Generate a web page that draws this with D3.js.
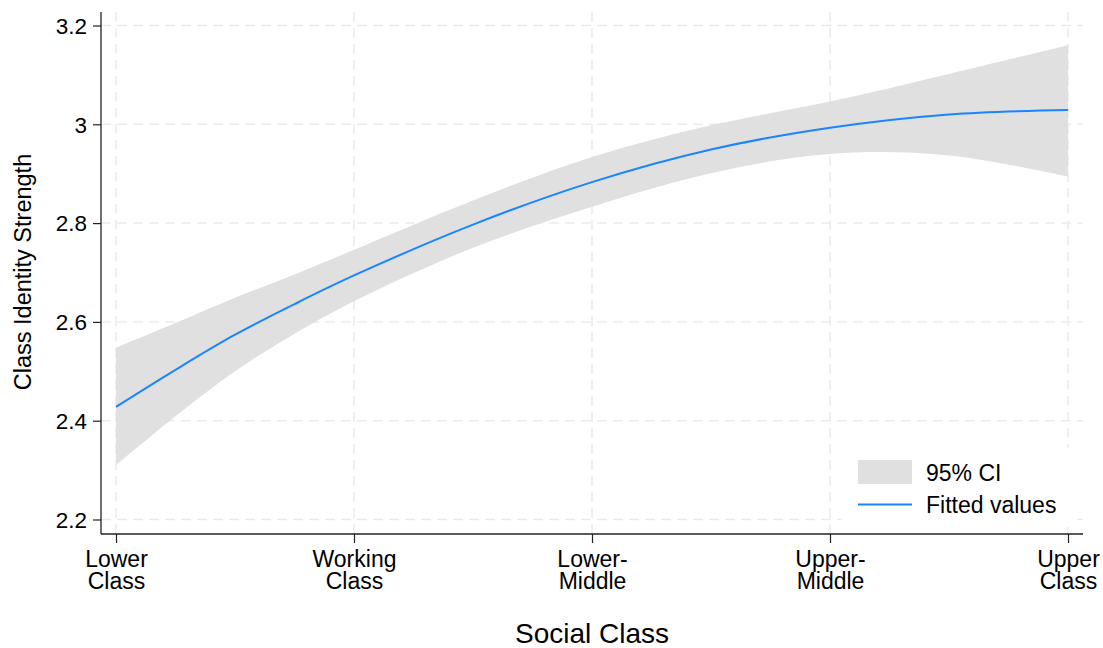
<!DOCTYPE html>
<html>
<head>
<meta charset="utf-8">
<script src="https://cdn.jsdelivr.net/npm/d3@7"></script>
<style>
  body { margin: 0; background: #fff; }
  svg text { font-family: "Liberation Sans", Arial, Helvetica, sans-serif; fill: #000; }
</style>
</head>
<body>
<svg id="chart"></svg>
<script>
// values
let classPos = [1, 1.25, 1.5, 1.75, 2, 2.5, 3, 3.5, 4, 4.5, 5];
let fitted = [2.428, 2.503, 2.574, 2.636, 2.694, 2.797, 2.883, 2.949, 2.993, 3.020, 3.029];
let ciUpper = [2.548, 2.598, 2.649, 2.696, 2.746, 2.846, 2.934, 2.998, 3.046, 3.102, 3.160];
let ciLower = [2.310, 2.409, 2.500, 2.576, 2.642, 2.750, 2.833, 2.901, 2.940, 2.937, 2.894];

let xTicks = [1, 2, 3, 4, 5];
let xTickLabels = [["Lower", "Class"], ["Working", "Class"], ["Lower-", "Middle"], ["Upper-", "Middle"], ["Upper", "Class"]];
let yTicks = [2.2, 2.4, 2.6, 2.8, 3, 3.2];

let w = 1103;
let h = 648;
let frame = { left: 101, right: 1083, top: 12, bottom: 534 };

let svg = d3.select("#chart").attr("width", w).attr("height", h);

let x = d3.scaleLinear().domain([1, 5]).range([116, 1068]);
let y = d3.scaleLinear().domain([2.2, 3.2]).range([519.5, 25.5]);

let rows = classPos.map((d, i) => ({ x: d, fit: fitted[i], hi: ciUpper[i], lo: ciLower[i] }));

// grid
svg.append("g").selectAll("line")
  .data(yTicks)
  .enter()
  .append("line")
  .attr("x1", frame.left).attr("x2", frame.right)
  .attr("y1", d => y(d)).attr("y2", d => y(d))
  .attr("stroke", "#ebebeb").attr("stroke-width", 1.5)
  .attr("stroke-dasharray", "10,6");

svg.append("g").selectAll("line")
  .data(xTicks)
  .enter()
  .append("line")
  .attr("x1", d => x(d)).attr("x2", d => x(d))
  .attr("y1", frame.top).attr("y2", frame.bottom)
  .attr("stroke", "#ebebeb").attr("stroke-width", 1.5)
  .attr("stroke-dasharray", "10,6");

// confidence band
let band = d3.area()
  .x(d => x(d.x))
  .y0(d => y(d.lo))
  .y1(d => y(d.hi))
  .curve(d3.curveCatmullRom);

svg.append("path")
  .datum(rows)
  .attr("d", band)
  .attr("fill", "#e0e0e0");

// fitted line
let line = d3.line()
  .x(d => x(d.x))
  .y(d => y(d.fit))
  .curve(d3.curveCatmullRom);

svg.append("path")
  .datum(rows)
  .attr("d", line)
  .attr("fill", "none")
  .attr("stroke", "#1a85ff")
  .attr("stroke-width", 2);

// axes
let yAxis = svg.append("g")
  .attr("transform", `translate(${frame.left},0)`)
  .call(d3.axisLeft(y).tickValues(yTicks).tickSize(8).tickPadding(6).tickFormat(d3.format("")));
yAxis.select(".domain").remove();
yAxis.selectAll(".tick line").attr("stroke", "#222").attr("stroke-width", 1.2);
yAxis.selectAll(".tick text").style("font-size", "22.5px").attr("dy", "0.35em");

let xAxis = svg.append("g")
  .attr("transform", `translate(0,${frame.bottom})`)
  .call(d3.axisBottom(x).tickValues(xTicks).tickSize(9).tickFormat(""));
xAxis.select(".domain").remove();
xAxis.selectAll(".tick line").attr("stroke", "#222").attr("stroke-width", 1.2);

xAxis.selectAll(".tick")
  .append("text")
  .style("font-size", "23px")
  .attr("text-anchor", "middle")
  .selectAll("tspan")
  .data((d, i) => xTickLabels[i])
  .enter()
  .append("tspan")
  .attr("x", 0)
  .attr("y", (d, i) => 33 + i * 22)
  .text(d => d);

svg.append("line")
  .attr("x1", frame.left).attr("x2", frame.left)
  .attr("y1", frame.top).attr("y2", frame.bottom)
  .attr("stroke", "#222").attr("stroke-width", 1.3);
svg.append("line")
  .attr("x1", frame.left).attr("x2", frame.right)
  .attr("y1", frame.bottom).attr("y2", frame.bottom)
  .attr("stroke", "#222").attr("stroke-width", 1.3);

// titles
svg.append("text")
  .attr("transform", "translate(31,272) rotate(-90)")
  .attr("text-anchor", "middle")
  .style("font-size", "23.5px")
  .text("Class Identity Strength");

svg.append("text")
  .attr("x", (frame.left + frame.right) / 2)
  .attr("y", 643)
  .attr("text-anchor", "middle")
  .style("font-size", "28px")
  .text("Social Class");

// legend
let legend = svg.append("g");
legend.append("rect")
  .attr("x", 842).attr("y", 448).attr("width", 235).attr("height", 79)
  .attr("fill", "#fff");
legend.append("rect")
  .attr("x", 858).attr("y", 460).attr("width", 54).attr("height", 24)
  .attr("fill", "#e0e0e0");
legend.append("line")
  .attr("x1", 858).attr("x2", 912).attr("y1", 504.5).attr("y2", 504.5)
  .attr("stroke", "#1a85ff").attr("stroke-width", 2);
legend.append("text")
  .attr("x", 926).attr("y", 480.5)
  .style("font-size", "23px")
  .text("95% CI");
legend.append("text")
  .attr("x", 926).attr("y", 512.5)
  .style("font-size", "23px")
  .text("Fitted values");
</script>
</body>
</html>
